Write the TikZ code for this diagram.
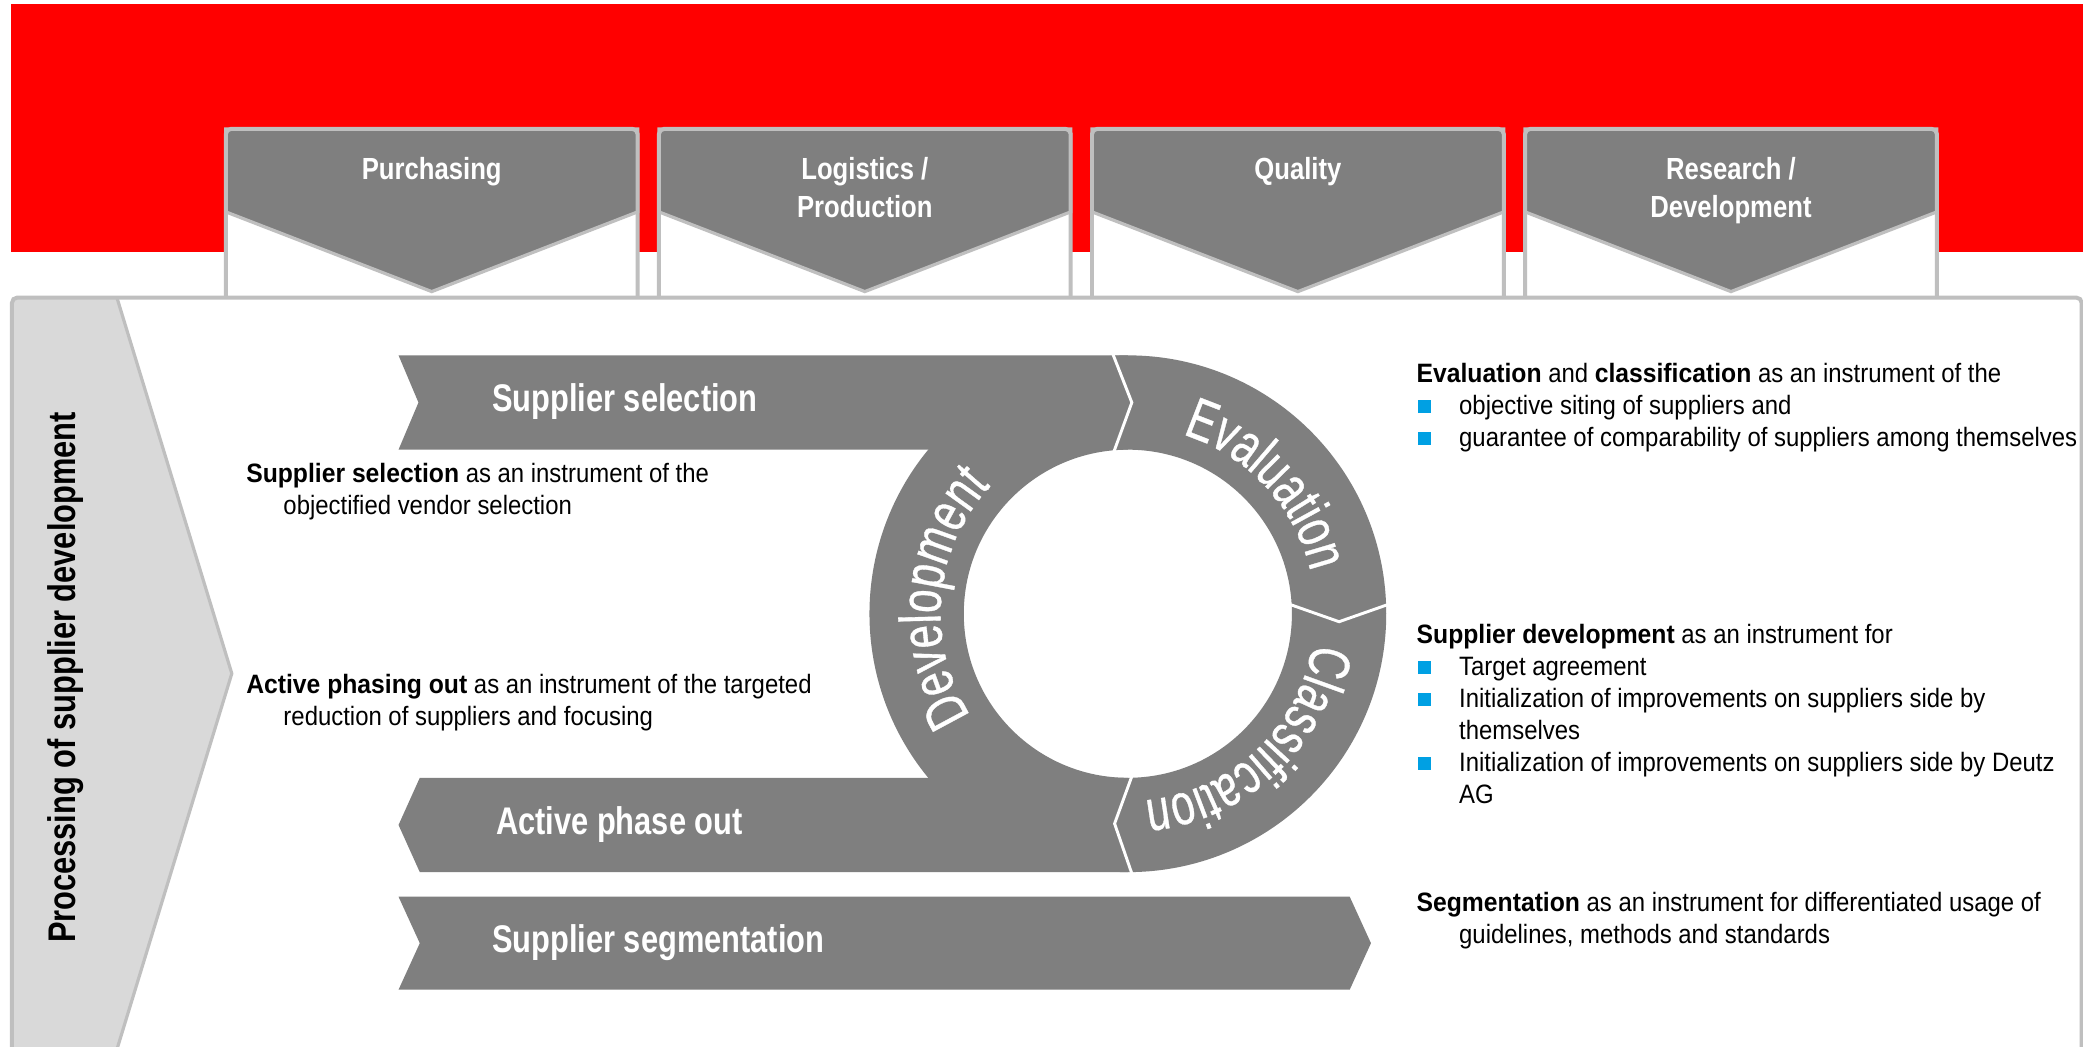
\documentclass[tikz,border=0pt]{standalone}
\usepackage{fontspec}
\setmainfont{Liberation Sans}
\newfontfamily\descfont[FakeStretch=0.9]{Liberation Sans}
\newfontfamily\descbold[FakeStretch=0.93]{Liberation Sans}
\newfontfamily\headfont[FakeStretch=0.84]{Liberation Sans}
\newfontfamily\bandfont[FakeStretch=0.8]{Liberation Sans}
\newfontfamily\ringfont[FakeStretch=0.72,FakeBold=0.6]{Liberation Sans}
\usetikzlibrary{calc, decorations.text}
\definecolor{bandred}{RGB}{255,0,0}
\definecolor{chevgray}{RGB}{127,127,127}
\definecolor{framegray}{RGB}{191,191,191}
\definecolor{panelgray}{RGB}{217,217,217}
\definecolor{bulletblue}{RGB}{0,160,227}
\newcommand{\hl}[1]{{\descbold\bfseries #1}}
\newcommand{\bul}{\makebox[16pt][l]{\hspace{0.5pt}\textcolor{bulletblue}{\raisebox{0.5pt}{\rule{5pt}{5pt}}}}}
\newcommand{\ringtext}{\ringfont\fontsize{22}{22}\selectfont}

\begin{document}
\begin{tikzpicture}[x=0.5pt,y=0.5pt,
  headlbl/.style={anchor=base,align=center,inner sep=0pt,text=white,font=\headfont\bfseries\fontsize{11.5}{14.5}\selectfont},
  bandlbl/.style={anchor=base west,inner sep=0pt,text=white,font=\bandfont\bfseries\fontsize{14.5}{17}\selectfont},
  desc/.style={anchor=base west,align=left,inner sep=0pt,font=\descfont\fontsize{10}{12}\selectfont},
  sep/.style={white,line width=1.1pt},
  ringlbl/.style={decorate,decoration={text along path,text align=center,text color=white,text={|\ringtext|#1}}}]
\useasboundingbox (0,0) rectangle (1568,788);
\fill[bandred] (8,598) rectangle (1568,785);

\fill[white] (9,-10) rectangle (1567,564);
\fill[panelgray] (9,-10) -- (9,564) -- (88,564) -- (174.5,281) -- (88,-2) -- (88,-10) -- cycle;
\draw[framegray,line width=1.2pt] (88,564) -- (174.5,281) -- (88,-2);

\foreach \x in {170,496,822,1148} {
  \fill[white] (\x,564) rectangle ++(310,127);
  \draw[framegray,line width=1.2pt,fill=chevgray] (\x,691) -- ++(310,0) -- ++(0,-62.5) -- ++(-155,-60) -- ++(-155,60) -- cycle;
  \draw[framegray,line width=1.5pt,rounded corners=2] (\x,564) |- ++(310,127) -- ++(0,-127);
}
\draw[framegray,line width=1.5pt,rounded corners=2] (9,-10) -- (9,564) -- (1567,564) -- (1567,-10);

\node[headlbl] (purch) at (325,653) {Purchasing};
\node[headlbl] (logis) at (651,624) {Logistics /\\Production};
\node[headlbl] (qual) at (977,653) {Quality};
\node[headlbl] (resdev) at (1303,624) {Research /\\Development};

\node[bandlbl,text=black,anchor=base,rotate=90] (process) at (56.5,278) {Processing of supplier development};

\coordinate (hub) at (849,326);
\fill[chevgray,even odd rule] (hub) circle[radius=194.5] (hub) circle[radius=123.5];
\fill[chevgray] (300,520.5) -- (849,520.5) -- (849,449.5) -- (300,449.5) -- (315,485) -- cycle;
\fill[chevgray] (316,202.5) -- (849,202.5) -- (849,131.5) -- (316,131.5) -- (300,167) -- cycle;
\fill[chevgray] (300,113) -- (1016,113) -- (1032,78) -- (1016,43) -- (300,43) -- (316,78) -- cycle;

\draw[sep] (837.5,522) -- (852,485) -- (838.5,448);
\draw[sep] (971,333) -- (1008,320) -- (1045,333);
\draw[sep] (852.5,205) -- (839,168) -- (852.5,129);

\path[ringlbl=Evaluation] ($(hub)+(88:141)$) arc[start angle=88,end angle=-2,radius=141];
\path[ringlbl=Classification] ($(hub)+(3:141)$) arc[start angle=3,end angle=-97,radius=141];
\path[ringlbl=Development] ($(hub)+(225:141)$) arc[start angle=225,end angle=125,radius=141];

\node[bandlbl] (selection) at (370,478) {Supplier selection};
\node[bandlbl] (phaseout) at (373,159.5) {Active phase out};
\node[bandlbl] (segment) at (370,71) {Supplier segmentation};

\node[desc] (seltext) at (185,401) {\hl{Supplier selection} as an instrument of the\\\hspace*{14pt}objectified vendor selection};
\node[desc] (outtext) at (185,242) {\hl{Active phasing out} as an instrument of the targeted\\\hspace*{14pt}reduction of suppliers and focusing};
\node[desc] (evaltext) at (1066,452) {\hl{Evaluation} and \hl{classification} as an instrument of the\\\bul objective siting of suppliers and\\\bul guarantee of comparability of suppliers among themselves};
\node[desc] (devtext) at (1066,183.5) {\hl{Supplier development} as an instrument for\\\bul Target agreement\\\bul Initialization of improvements on suppliers side by\\\hspace*{16pt}themselves\\\bul Initialization of improvements on suppliers side by Deutz\\\hspace*{16pt}AG};
\node[desc] (segtext) at (1066,78) {\hl{Segmentation} as an instrument for differentiated usage of\\\hspace*{16pt}guidelines, methods and standards};
\end{tikzpicture}
\end{document}
